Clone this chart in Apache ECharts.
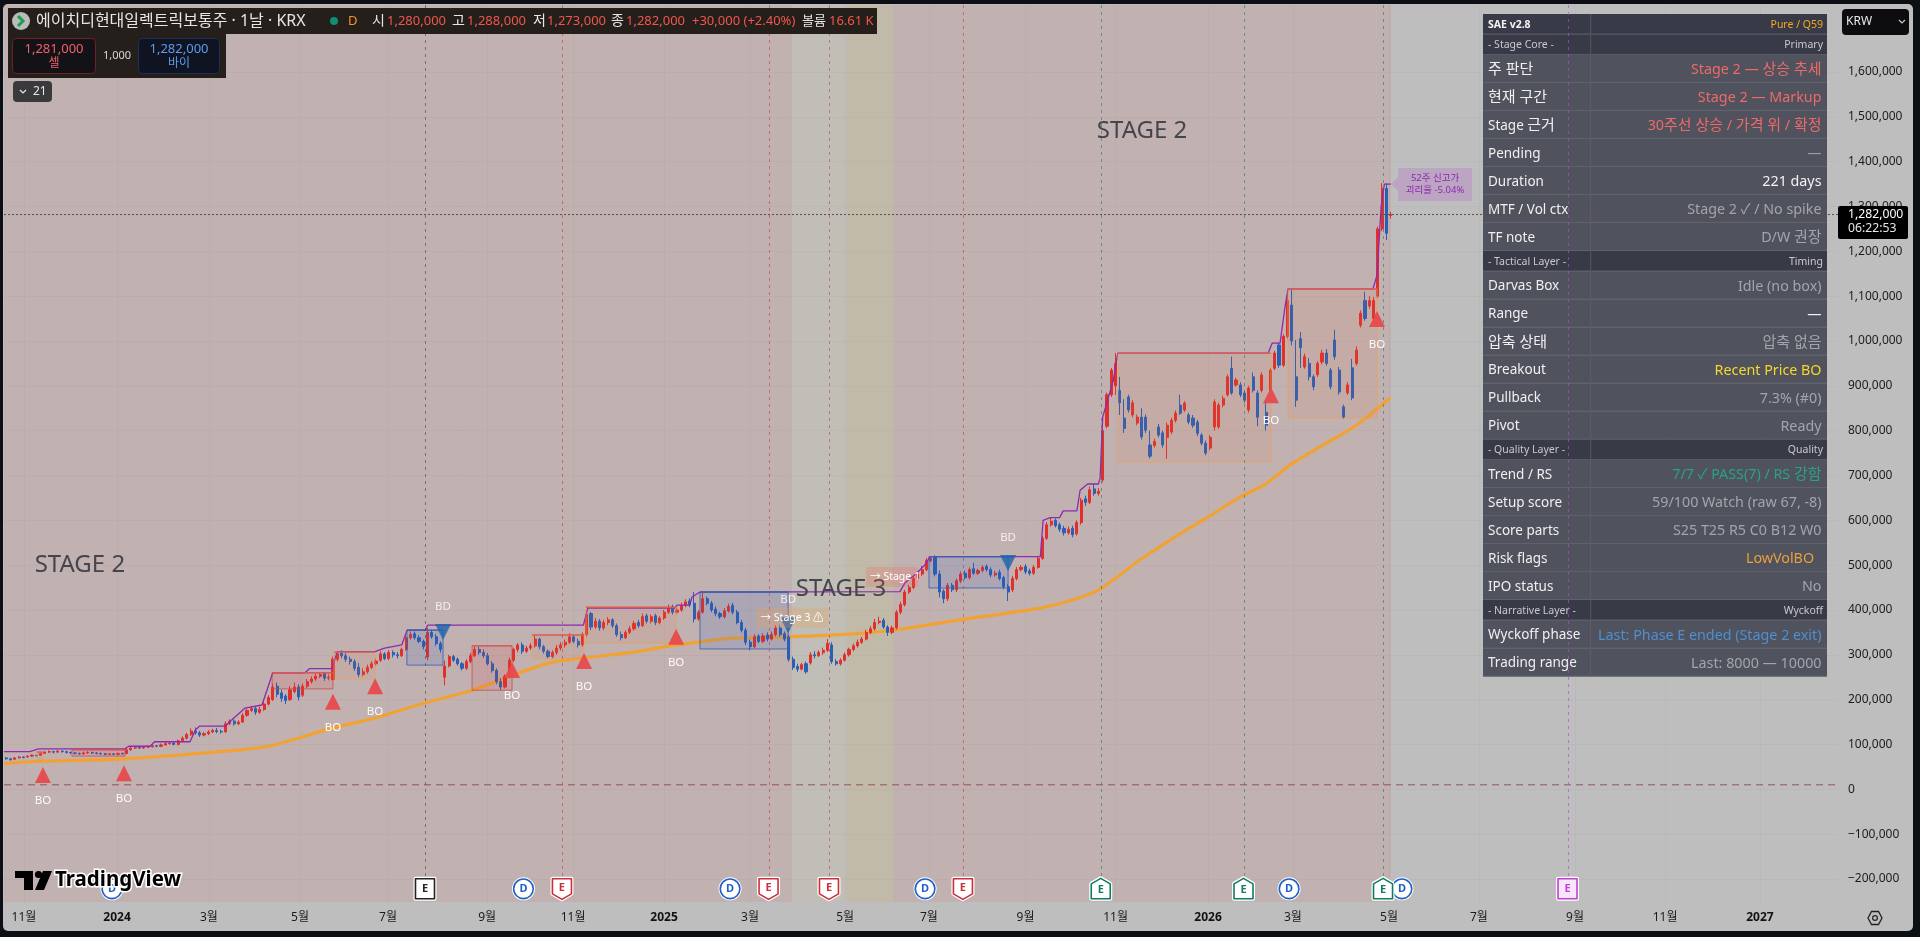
<!DOCTYPE html>
<html><head><meta charset="utf-8"><title>HD Hyundai Electric</title>
<script src="https://cdn.jsdelivr.net/npm/echarts@6/dist/echarts.min.js"></script>
<style>html,body{margin:0;padding:0;background:#0c0f13}#c{width:1920px;height:937px}</style></head>
<body><div id="c"></div>
<script>
// all prices in thousand KRW, x positions in sessions
var opens=[70,68,67,70,72,72,74,76,76,80,
83,84,83,85,84,82,81,80,79,81,
82,81,80,79,78,79,78,80,80,88,
92,93,92,94,95,97,96,99,102,103,
100,108,114,122,130,126,121,124,128,131,
129,128,146,152,146,150,165,176,180,172,
178,190,200,230,215,208,200,218,228,210,
230,240,246,252,258,248,245,290,303,298,
290,285,272,256,262,272,280,288,302,292,
305,300,298,312,338,347,338,330,295,350,
340,325,250,275,296,290,280,270,285,298,
312,305,298,280,265,240,228,252,288,312,
322,308,315,320,335,318,308,296,305,315,
322,328,340,330,322,345,392,362,375,360,
372,378,365,345,338,350,358,372,365,387,
375,387,372,382,395,407,395,400,410,420,
415,380,395,425,415,402,392,385,398,410,
395,372,355,328,318,342,330,344,335,345,
360,347,340,290,274,268,280,282,300,298,
305,310,322,285,280,288,300,312,320,328,
335,350,358,372,377,362,350,360,395,412,
440,450,470,480,490,510,517,480,442,425,
455,445,465,482,472,492,482,488,497,490,
478,484,472,452,445,470,490,497,487,482,
495,515,560,590,600,590,582,572,582,570,
595,648,640,670,660,690,810,880,900,890,
828,875,835,817,830,830,768,767,808,795,
785,797,823,857,846,835,828,819,790,772,
761,808,808,857,880,939,902,902,884,846,
920,884,890,841,890,939,991,946,1010,1080,
920,1005,942,950,920,925,953,973,935,1002,
935,853,884,940,950,1035,1090,1078,1050,1100,1250,1340,1280];
var closes=[68,66,70,72,71,74,76,75,80,83,
84,83,85,84,82,81,80,79,81,82,
81,80,79,78,79,78,80,79,88,92,
93,92,94,95,97,96,99,102,103,100,
108,114,122,130,126,121,124,128,131,129,
128,146,152,146,150,165,176,180,172,178,
190,205,228,212,203,198,222,228,206,230,
240,246,252,256,248,250,290,302,298,290,
285,270,256,262,272,280,286,302,292,305,
300,298,312,338,345,338,330,318,350,340,
325,312,275,296,288,280,270,285,298,312,
305,298,280,265,240,228,252,288,312,322,
308,315,320,335,318,308,296,305,315,322,
328,340,330,322,345,390,362,375,360,372,
378,365,345,338,350,358,370,365,385,375,
385,372,382,395,405,395,400,410,418,412,
380,395,425,415,400,392,385,398,408,395,
372,355,328,318,340,330,342,335,345,360,
345,335,290,272,268,278,262,300,298,305,
310,325,285,280,288,300,312,320,328,335,
350,358,372,375,362,350,360,395,412,440,
450,470,480,490,510,515,480,440,425,455,
445,465,480,472,490,482,488,495,490,478,
482,470,452,440,470,490,495,485,482,495,
515,560,590,598,588,580,572,580,568,595,
645,640,668,660,665,800,880,935,950,862,
805,846,862,830,786,801,743,776,790,768,
812,823,839,839,861,819,812,794,772,750,
785,864,857,872,920,884,913,880,868,895,
890,830,924,812,935,973,946,1010,1090,1000,
868,985,965,920,898,950,973,950,898,965,
886,830,902,873,980,1062,1050,1090,1090,1250,1340,1240,1282];
var highs=[72,70,72,74,73,76,78,77,82,85,
87,86,88,87,86,84,83,82,84,85,
84,83,82,81,81,81,82,82,92,96,
96,95,97,98,100,99,102,105,106,105,
111,118,126,136,138,130,128,132,135,137,
133,152,156,156,154,170,180,186,184,184,
194,210,236,238,222,212,230,238,234,236,
246,252,258,262,262,256,296,308,310,304,
296,290,282,270,278,286,292,308,306,310,
310,306,316,342,352,352,344,334,360,356,
346,330,287,300,300,294,284,290,304,318,
318,312,304,286,270,248,256,294,316,326,
328,320,326,345,338,322,312,310,322,328,
334,348,344,336,350,398,396,382,380,378,
384,382,370,352,355,364,376,378,392,392,
390,392,386,400,412,412,405,416,424,426,
440,400,438,430,420,408,396,404,414,416,
400,378,360,334,346,346,348,350,352,366,
366,352,345,296,280,282,285,306,308,310,
316,335,328,290,292,305,316,325,334,340,
356,364,380,385,382,366,365,400,418,445,
456,476,486,498,516,520,522,488,446,460,
460,470,486,488,495,505,492,500,502,495,
487,490,476,458,476,496,500,502,492,500,
520,565,596,606,604,595,588,586,588,600,
650,655,675,680,672,805,885,940,973,920,
870,880,868,836,850,836,800,782,815,800,
818,829,845,880,866,840,835,824,795,778,
790,870,862,878,925,965,918,908,890,900,
930,890,930,870,940,978,996,1015,1116,1116,
1002,1020,972,962,925,955,980,982,940,1025,
942,858,908,960,988,1068,1110,1100,1098,1255,1352,1352,1288];
var lows=[66,64,66,69,69,71,73,73,75,79,
81,80,81,82,80,79,78,77,77,79,
79,78,77,76,76,76,76,77,78,86,
90,90,90,92,93,94,94,97,99,98,
98,105,111,119,122,117,118,121,125,125,
124,126,143,142,143,148,162,172,166,168,
175,187,197,205,195,190,197,214,198,206,
226,236,242,248,242,243,243,285,292,284,
278,264,250,252,258,268,276,284,288,288,
294,292,295,309,334,334,326,312,288,336,
320,305,232,272,284,276,265,266,281,295,
300,293,276,260,234,222,225,248,284,306,
302,304,311,316,312,303,292,292,300,310,
316,324,326,316,318,340,355,358,354,355,
366,360,340,332,335,346,354,360,362,370,
370,366,368,378,391,390,391,396,406,406,
372,376,392,410,395,386,380,381,394,390,
368,350,322,310,315,326,326,330,332,341,
340,330,285,266,262,265,258,278,292,295,
300,306,280,276,276,285,296,308,316,324,
332,346,354,368,358,342,346,356,390,408,
436,446,466,476,486,506,475,428,415,420,
440,440,460,468,468,478,478,484,486,473,
474,466,446,420,440,466,486,480,477,478,
492,512,556,586,584,574,566,568,562,566,
590,632,636,655,655,685,805,875,880,835,
795,840,830,812,780,795,738,762,785,762,
737,792,818,835,842,814,806,788,767,745,
756,800,804,852,876,880,898,875,862,840,
885,810,885,800,885,935,940,942,1005,990,
853,940,938,912,890,920,948,945,892,958,
880,826,880,868,945,1030,1045,1072,1040,1095,1245,1225,1273];

var highLineS=[0,12,16,56,58,68,70,86.5,89,91,103,106,112,120,125,140,142,152.5,155,172.5,177,185,187.5,196,197,269.5,271.5,312,313,319,320,323.7,416.7,419,424.7,428.4,430.7,482,483.3,486.5,491,492.6,499,500.5,504,509,509.8,511,516,518,588,589.8,593.5,595.8,597.2,636.7,638.6,640.5,642,645];
var highLineV=[84,84,90,90,96,96,106,106,132,141,141,155,181,188,260,260,269,269,307,307,315,322,355,355,366,366,404,404,411,411,429,440,441,460,483,501,519,519,600,606,606,621,621,667,681,681,694,830,913,973,973,995,995,1076,1116,1116,1147,1299,1350,1350];
var maS=[0,14.4,56.3,110,124,153,172.6,196,218,230.7,254,292.6,313,339,364,393.5,416.7,444.7,482,497,510,528.4,544,559.5,575,587.4,598,613.5,629,644.7];
var maV=[57,62,68,88,97,137,159,193,221,244,282,306,322,337,340,346,357,378,404,422,447,512,561,606,652,683,723,768,812,873];

var boS=[18.1,55.8,153,172.6,236.3,269.8,312.6,589.3,638.6];
var boV=[32,36,195,230,266,286,340,879,1049];
var bdS=[204.2,364.7,467];
var bdV=[351,366,505];

var boxS0=[15.3,31.6,124.7,153.5,187.4,217.7,245.6,270.7,323.7,430.2,518.1,597.2];
var boxS1=[18.1,56.3,153,172.6,204.2,236.3,269.8,312.6,364.7,467,589.3,638.6];
var boxLow=[61,74,224,246,277,221,291,326,313,449,730,828];
var boxHigh=[83,88,260,306,355,320,344,406,440,519,973,1116];
var boxKind=[1,0,0,1,2,0,1,1,2,2,1,1];

var bandS0=[0,366.5,392,413.5];
var bandS1=[366.5,392,413.5,645.1];
var bandColor=['rgba(225,75,75,0.11)','rgba(205,190,140,0.14)','rgba(215,170,80,0.18)','rgba(225,75,75,0.11)'];

var earnS=[195.8,259.5,355.6,383.7,446,510.1,576.5,641.4,727.2];
var earnKind=['k','r','r','r','r','g','g','g','p'];
var divS=[50.2,241.6,337.7,428.4,597.7,650.2];

var tickS=[9.3,52.6,95.3,137.7,178.6,224.7,264.7,307,347,391.2,430.2,475.1,517,560,599.5,644.2,686,730.7,772.6,816.7];
var tickL=['11월','2024','3월','5월','7월','9월','11월','2025','3월','5월','7월','9월','11월','2026','3월','5월','7월','9월','11월','2027'];
var yTicks=[-200,-100,0,100,200,300,400,500,600,700,800,900,1000,1100,1200,1300,1400,1500,1600];

var tableLeft=['SAE v2.8','- Stage Core -','주 판단','현재 구간','Stage 근거','Pending','Duration','MTF / Vol ctx','TF note','- Tactical Layer -','Darvas Box','Range','압축 상태','Breakout','Pullback','Pivot','- Quality Layer -','Trend / RS','Setup score','Score parts','Risk flags','IPO status','- Narrative Layer -','Wyckoff phase','Trading range'];
var tableRight=['Pure / Q59','Primary','Stage 2 — 상승 추세','Stage 2 — Markup','30주선 상승 / 가격 위 / 확정','—','221 days','Stage 2 ✓ / No spike','D/W 권장','Timing','Idle (no box)','—','압축 없음','Recent Price BO','7.3% (#0)','Ready','Quality','7/7 ✓ PASS(7) / RS 강함','59/100 Watch (raw 67, -8)','S25 T25 R5 C0 B12 W0','LowVolBO\u00a0\u00a0','No','Wyckoff','Last: Phase E ended (Stage 2 exit)','Last: 8000 — 10000'];
var tableColor=['#f5a623','#c8c8cc','#ee6a6a','#ee6a6a','#ee6a6a','#9a9ca4','#f2f2f2','#a3a5ad','#a3a5ad','#c8c8cc','#a3a5ad','#f2f2f2','#a3a5ad','#f4d82c','#a3a5ad','#a3a5ad','#c8c8cc','#27a28c','#a3a5ad','#a3a5ad','#e8a13b','#a3a5ad','#c8c8cc','#4f8fd0','#a3a5ad'];
var tableHead=[1,1,0,0,0,0,0,0,0,1,0,0,0,0,0,0,1,0,0,0,0,0,1,0,0];

var F="'Noto Sans','Noto Sans CJK KR',sans-serif";
var lastV=1282, zeroV=10, xMax=853;

function T(x,y,t,size,color,align,weight,z,extra){
  var s={text:t,fill:color,font:(weight||'normal')+' '+size+'px '+F,align:align||'left',verticalAlign:'middle'};
  if(extra)for(var k in extra)s[k]=extra[k];
  return {type:'text',x:x,y:y,z:z||20,silent:true,style:s};
}
function K(x,y,t,size,color,align,z){
  var marked=t.replace(/[가-힣]+(?: [가-힣]+)*/g,function(m){return '{h|'+m+'}';});
  return T(x,y,marked,size,color,align,'normal',z,{rich:{h:{font:'15px '+F,fill:color}}});
}
function R(x,y,w,h,fill,z,r,stroke){
  return {type:'rect',z:z||19,silent:true,shape:{x:x,y:y,width:w,height:h,r:r||0},style:{fill:fill,stroke:stroke||null,lineWidth:stroke?1:0}};
}
var G=[];
G.push(R(3,4,1910,927,'#bebebe',-10,5));
(function(){
  var y=14;
  for(var i=0;i<tableLeft.length;i++){
    var h=tableHead[i];var ht=h?20.5:28;
    G.push(R(1483,y,344,ht,h?'#383b47':'#50525d',1));
    G.push(R(1483,y+ht-1,344,1,h?'#585b66':'#5f616c',1));
    G.push(R(1590,y,1.2,ht,h?'#50535e':'#5a5c67',1));
    if(h){
      G.push(T(1488,y+ht/2+0.5,tableLeft[i],10.5,i===0?'#f4f4f4':'#c8c8cc','left',i===0?'bold':'normal',2));
      G.push(T(1823,y+ht/2+0.5,tableRight[i],10.5,tableColor[i],'right','normal',2));
    }else{
      G.push(K(1488,y+ht/2+1,tableLeft[i],13.5,'#f0f0f0','left',2));
      G.push(K(1821.5,y+ht/2+1,tableRight[i],14.3,tableColor[i],'right',2));
    }
    y+=ht;
  }
})();
G.push(R(8,8,869,26,'#241f1b',19));
G.push(R(8,34,218,44,'#241f1b',19));
G.push({type:'circle',z:20,silent:true,shape:{cx:21,cy:21,r:9},style:{fill:'#b9bdb9'}});
G.push({type:'polyline',z:21,silent:true,shape:{points:[[18,16],[23,21],[18,26]]},style:{stroke:'#1f9d55',lineWidth:3,fill:null}});
G.push(T(36,21,'에이치디현대일렉트릭보통주 · 1날 · KRX',16,'#e8e6e3'));
G.push({type:'circle',z:20,silent:true,shape:{cx:334,cy:21,r:4},style:{fill:'#0e8f76'}});
G.push(T(348,21,'D',13,'#f5922a'));
var hdrX=[372,452,533,611],hdrK=['시','고','저','종'],hdrV=['1,280,000','1,288,000','1,273,000','1,282,000'],hdrVX=[387,467,547,626];
hdrK.forEach(function(k,i){G.push(T(hdrX[i],21,k,14,'#e8e6e3'));G.push(T(hdrVX[i],21,hdrV[i],13,'#f2554c'));});
G.push(T(692,21,'+30,000 (+2.40%)',13,'#f2554c'));
G.push(T(802,21,'볼륨',13,'#e8e6e3'));
G.push(T(829,21,'16.61 K',13,'#f2554c'));
G.push(R(12.5,38.5,83,35,'#131216',20,4,'#6e2228'));
G.push(T(54,49,'1,281,000',13,'#f0606c','center','normal',21));
G.push(T(54,64,'셀',12,'#f0606c','center','normal',21));
G.push(T(117,56,'1,000',11,'#d8d8d8','center','normal',21));
G.push(R(138.5,38.5,81,35,'#101420',20,4,'#1c2e5a'));
G.push(T(179,49,'1,282,000',13,'#5a9cf0','center','normal',21));
G.push(T(179,64,'바이',12,'#5a9cf0','center','normal',21));
G.push(R(13,81,39,21,'#3a3a3c',20,4));
G.push({type:'polyline',z:21,silent:true,shape:{points:[[20,90],[23,93],[26,90]]},style:{stroke:'#e8e8e8',lineWidth:1.2,fill:null}});
G.push(T(33,91.5,'21',12,'#e8e8e8','left','normal',21));
G.push(R(1842,9,67,26,'#0d0d0f',20,4));
G.push(T(1846,22,'KRW',12,'#e8e8e8','left','normal',21));
G.push({type:'polyline',z:21,silent:true,shape:{points:[[1899,20],[1902,23],[1905,20]]},style:{stroke:'#c8c8c8',lineWidth:1.2,fill:null}});
G.push(R(1838,206,70,33,'#000000',20,2));
G.push(T(1848,215,'1,282,000',12.2,'#ffffff','left','normal',21));
G.push(T(1848,229,'06:22:53',12.2,'#e8e8e8','left','normal',21));
G.push({type:'polygon',z:20,silent:true,shape:{points:[[1868,918],[1871.5,911.5],[1878.5,911.5],[1882,918],[1878.5,924.5],[1871.5,924.5]]},style:{fill:null,stroke:'#222',lineWidth:1.3}});
G.push({type:'circle',z:20,silent:true,shape:{cx:1875,cy:918,r:2.4},style:{fill:null,stroke:'#222',lineWidth:1.2}});
G.push(R(15,871,18,7,'#000',21));G.push(R(24,871,9,19,'#000',21));
G.push({type:'circle',z:21,silent:true,shape:{cx:38.5,cy:874.5,r:3.6},style:{fill:'#000'}});
G.push({type:'polygon',z:21,silent:true,shape:{points:[[43,871],[52,871],[44,890],[35,890]]},style:{fill:'#000'}});
G.push(T(55,880.5,'TradingView',20.5,'#000','left','bold',21,{stroke:'#fff',lineWidth:3}));

var candleRows=opens.map(function(o,i){return [2*i+1,o,closes[i],lows[i],highs[i]];});
var UP='#e0302a',DN='#2a5fb5';
var option={
  animation:false,backgroundColor:'#0c0f13',
  textStyle:{fontFamily:F},
  grid:{left:4,top:5,width:1834,height:897,containLabel:false},
  xAxis:{type:'value',min:0,max:xMax,
    axisLine:{show:false},
    axisTick:{show:false,customValues:tickS},
    splitLine:{show:true,lineStyle:{color:'rgba(0,0,0,0.025)',width:1}},
    axisLabel:{customValues:tickS,margin:10,fontSize:12,color:'#1c1c1c',hideOverlap:false,
      rich:{y:{fontWeight:'bold',fontSize:12,color:'#111'}},
      formatter:function(v){var i=tickS.indexOf(v);var t=tickL[i]||'';return /^20/.test(t)?'{y|'+t+'}':t;}}},
  yAxis:{type:'value',position:'right',min:-251.4,max:1749.4,
    axisLine:{show:false},
    axisTick:{show:false,customValues:yTicks},
    splitLine:{show:true,lineStyle:{color:'rgba(0,0,0,0.025)',width:1}},
    axisLabel:{customValues:yTicks,inside:false,margin:10,align:'left',fontSize:12,color:'#1c1c1c',
      formatter:function(v){return v===0?'0':(v*1000).toLocaleString('en-US').replace('-','−');}}},
  graphic:{elements:G},
  series:[
   {type:'custom',name:'stages',z:0,silent:true,data:bandS0.map(function(_,i){return [i,0];}),encode:{x:0,y:1},
    renderItem:function(params,api){
      var i=params.dataIndex,cs=params.coordSys;
      var a=api.coord([bandS0[i],0])[0],b=api.coord([bandS1[i],0])[0];
      return {type:'rect',shape:{x:a,y:cs.y,width:b-a,height:cs.height},style:{fill:bandColor[i]}};
    }},
   {type:'candlestick',name:'price',z:3,barWidth:2.6,data:candleRows,encode:{x:0,y:[1,2,3,4]},silent:true,
    itemStyle:{color:UP,color0:DN,borderColor:UP,borderColor0:DN,borderWidth:1}},
   {type:'line',name:'ma',z:3,data:maS.map(function(s,i){return [s,maV[i]];}),symbol:'none',smooth:0.25,silent:true,
    lineStyle:{color:'#f4a12c',width:3.2,opacity:0.95}},
   {type:'line',name:'52w',z:4,data:highLineS.map(function(s,i){return [s,highLineV[i]];}),symbol:'none',silent:true,
    lineStyle:{color:'#8e2ab0',width:1.3}},
   {type:'custom',name:'boxes',z:5,silent:true,data:boxS0.map(function(_,i){return [i,0];}),encode:{x:0,y:1},
    renderItem:function(params,api){
      var i=params.dataIndex,k=boxKind[i];
      var p0=api.coord([boxS0[i],boxHigh[i]]),p1=api.coord([boxS1[i],boxLow[i]]);
      var fill=k===0?'rgba(225,60,55,0.13)':k===1?'rgba(232,110,60,0.09)':'rgba(40,90,190,0.14)';
      var st=k===0?'rgba(205,70,70,0.75)':k===1?'rgba(238,160,80,0.65)':'rgba(55,100,180,0.85)';
      var top=k===2?st:'rgba(215,90,85,0.95)';
      return {type:'group',children:[
        {type:'rect',shape:{x:p0[0],y:p0[1],width:p1[0]-p0[0],height:p1[1]-p0[1]},style:{fill:fill,stroke:st,lineWidth:1}},
        {type:'line',shape:{x1:p0[0],y1:p0[1],x2:p1[0],y2:p0[1]},style:{stroke:top,lineWidth:1.4}}
      ]};
    }},
   {type:'line',name:'zero',z:2,data:[[0,zeroV],[xMax,zeroV]],symbol:'none',silent:true,
    lineStyle:{color:'rgba(130,50,70,0.75)',width:1,type:[7,5]}},
   {type:'line',name:'last',z:5,data:[[0,lastV],[xMax,lastV]],symbol:'none',silent:true,
    lineStyle:{color:'#55504f',width:1,type:[2,2]}},
   {type:'scatter',name:'BO',z:6,symbol:'triangle',symbolSize:[16,16],silent:true,data:boS.map(function(s,i){return [s,boV[i]];}),
    itemStyle:{color:'#e84a4c',opacity:0.95},
    label:{show:true,formatter:'BO',position:'inside',offset:[0,25.5],color:'#fff',fontSize:11.5}},
   {type:'scatter',name:'BD',z:6,symbol:'triangle',symbolRotate:180,symbolSize:[16,16],silent:true,data:bdS.map(function(s,i){return [s,bdV[i]];}),
    itemStyle:{color:'#1b62ad'},
    label:{show:true,formatter:'BD',position:'inside',offset:[0,-25.5],color:'#fff',fontSize:11.5}},
   {type:'custom',name:'eventLines',z:6,silent:true,clip:false,data:earnS.map(function(_,i){return [i,0];}),encode:{x:0,y:1},
    renderItem:function(params,api){
      var i=params.dataIndex,cs=params.coordSys,k=earnKind[i];
      var x=Math.round(api.coord([earnS[i],0])[0])+0.5;
      var c={k:'rgba(70,70,70,0.6)',r:'rgba(195,60,70,0.6)',g:'rgba(50,125,105,0.65)',p:'rgba(170,80,200,0.65)'}[k];
      return {type:'line',shape:{x1:x,y1:cs.y,x2:x,y2:878},style:{stroke:c,lineWidth:1,lineDash:[3,4]}};
    }},
   {type:'custom',name:'dividends',z:7,silent:true,clip:false,data:divS.map(function(_,i){return [i,0];}),encode:{x:0,y:1},
    renderItem:function(params,api){
      var x=api.coord([divS[params.dataIndex],0])[0],y=api.coord([0,-222])[1];
      return {type:'group',children:[
        {type:'circle',shape:{cx:x,cy:y,r:11.5},style:{fill:'#fff'}},
        {type:'circle',shape:{cx:x,cy:y,r:9.8},style:{fill:'#fff',stroke:'#2160c4',lineWidth:1.6}},
        {type:'text',x:x,y:y,style:{text:'D',fill:'#2160c4',font:'bold 11px '+F,align:'center',verticalAlign:'middle'}}
      ]};
    }},
   {type:'custom',name:'earnings',z:8,silent:true,clip:false,data:earnS.map(function(_,i){return [i,0];}),encode:{x:0,y:1},
    renderItem:function(params,api){
      var i=params.dataIndex,k=earnKind[i];
      var x=api.coord([earnS[i],0])[0],y=api.coord([0,-222])[1];
      var c={k:'#222',r:'#c9303c',g:'#0f7d62',p:'#c23fd4'}[k];
      var w=9.5,pts;
      if(k==='r')pts=[[x-w,y-10],[x+w,y-10],[x+w,y+5],[x,y+10.5],[x-w,y+5]];
      else if(k==='g')pts=[[x-w,y-5],[x,y-10.5],[x+w,y-5],[x+w,y+10],[x-w,y+10]];
      else pts=[[x-w,y-10],[x+w,y-10],[x+w,y+10],[x-w,y+10]];
      return {type:'group',children:[
        {type:'polygon',shape:{points:pts},style:{fill:'#fff',stroke:'#fff',lineWidth:4,lineJoin:'round'}},
        {type:'polygon',shape:{points:pts},style:{fill:k==='p'?'#f6e6fa':'#fff',stroke:c,lineWidth:1.6,lineJoin:'round'}},
        {type:'text',x:x,y:k==='r'?y-1:(k==='g'?y+1.5:y),style:{text:'E',fill:c,font:'bold 11px '+F,align:'center',verticalAlign:'middle'}}
      ]};
    }},
   {type:'custom',name:'notes',z:9,silent:true,clip:false,data:[[0,0]],encode:{x:0,y:1},
    renderItem:function(params,api){
      function P(s,v){return api.coord([s,v]);}
      function big(s,v,t){var p=P(s,v);return {type:'text',x:p[0],y:p[1],style:{text:t,fill:'#45454e',font:'24px '+F,align:'center',verticalAlign:'middle'}};}
      var a=P(349.8,405),b=P(383.3,360),c=P(401,496),d=P(425,452);
      var e=P(648.4,1386),f=P(682.8,1312),t=P(645,1350);
      return {type:'group',children:[
        big(35.3,500,'STAGE 2'),big(529.3,1467,'STAGE 2'),big(389.3,447,'STAGE 3'),
        {type:'rect',shape:{x:a[0],y:a[1],width:b[0]-a[0],height:b[1]-a[1]},style:{fill:'rgba(245,165,70,0.24)'}},
        {type:'text',x:(a[0]+b[0])/2,y:(a[1]+b[1])/2,style:{text:'→ Stage 3 ⚠',fill:'#fff',font:'10.5px '+F,align:'center',verticalAlign:'middle'}},
        {type:'rect',shape:{x:c[0],y:c[1],width:d[0]-c[0],height:d[1]-c[1]},style:{fill:'rgba(240,90,80,0.22)'}},
        {type:'text',x:c[0]+4,y:(c[1]+d[1])/2,style:{text:'→ Stage 1',fill:'#fff',font:'10.5px '+F,align:'left',verticalAlign:'middle'}},
        {type:'polygon',shape:{points:[[t[0],t[1]],[e[0],t[1]-7],[e[0],e[1]],[f[0],e[1]],[f[0],f[1]],[e[0],f[1]],[e[0],t[1]+7]]},style:{fill:'rgba(186,110,205,0.30)'}},
        {type:'text',x:(e[0]+f[0])/2,y:e[1]+10,style:{text:'52주 신고가',fill:'#8e2ab0',font:'9.5px '+F,align:'center',verticalAlign:'middle'}},
        {type:'text',x:(e[0]+f[0])/2,y:e[1]+22,style:{text:'괴리율 -5.04%',fill:'#8e2ab0',font:'9.5px '+F,align:'center',verticalAlign:'middle'}}
      ]};
    }}
  ]
};
var chart=echarts.init(document.getElementById('c'),null,{renderer:'canvas',width:1920,height:937});
chart.setOption(option);
</script></body></html>
